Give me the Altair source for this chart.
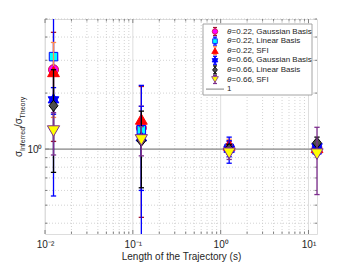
import altair as alt
import pandas as pd

# ---------------- data ----------------
X_LEN = [0.0125, 0.125, 1.25, 12.5]

G022_Y = [2.67, 1.30, 1.02, 1.01]
G022_E = [1.57, 0.87, 0.08, 0.06]
L022_Y = [3.14, 1.27, 1.01, 0.99]
L022_E = [2.58, 0.93, 0.10, 0.06]
S022_Y = [2.61, 1.45, 1.05, 1.02]
S022_E = [1.13, 0.25, 0.08, 0.06]
G066_Y = [1.84, 1.15, 1.00, 1.03]
G066_E = [0.30, 0.55, 0.16, 0.08]
L066_Y = [1.71, 1.11, 1.00, 1.08]
L066_E = [0.96, 0.49, 0.06, 0.08]
S066_Y = [1.25, 1.12, 0.95, 0.94]
S066_E = [0.32, 0.20, 0.07, 0.37]

SERIES_THETA = ["0.22", "0.22", "0.22", "0.66", "0.66", "0.66"]
SERIES_METHOD = ["Gaussian Basis", "Linear Basis", "SFI",
                 "Gaussian Basis", "Linear Basis", "SFI"]
SERIES_Y = [G022_Y, L022_Y, S022_Y, G066_Y, L066_Y, S066_Y]
SERIES_E = [G022_E, L022_E, S022_E, G066_E, L066_E, S066_E]

REF_NAME = "1"
REF_X = [0.01, 12.5]
REF_Y = [1.0, 1.0]

X_TICKS = [0.01, 0.1, 1, 10]
X_TICK_LABELS = ["10⁻²", "10⁻¹", "10⁰", "10¹"]
X_MINOR = [0.02, 0.03, 0.04, 0.05, 0.06, 0.07, 0.08, 0.09,
           0.2, 0.3, 0.4, 0.5, 0.6, 0.7, 0.8, 0.9,
           2, 3, 4, 5, 6, 7, 8, 9]
Y_TICKS = [1]
Y_TICK_LABELS = ["10⁰"]
Y_MINOR = [0.4, 0.5, 0.6, 0.7, 0.8, 0.9, 2, 3, 4, 5]
X_DOMAIN = [0.01, 12.5]
Y_DOMAIN = [0.35, 5]

X_TITLE = "Length of the Trajectory (s)"
Y_TITLE_PARTS = ["σ", "Inferred", "/σ", "Theory"]

# ---------------- styles ----------------
W, H = 272, 215
FONT = "Liberation Sans"
TXT = "#262626"
AXC = "#6a6a6a"
HEX = "M0,-1L0.866,0.5L-0.866,0.5Z M0,1L-0.866,-0.5L0.866,-0.5Z"
DIAM = "M-0.8,0L0,-1L0.8,0L0,1Z"
STYLES = [
    dict(bar="#a2142f", face="#ff00ff", edge="#d0103a", shape="circle", size=100),
    dict(bar="#0000ff", face="#00ffff", edge="#0000ff", shape="square", size=72),
    dict(bar="#ff8a50", face="#ff0000", edge="#ff0000", shape="triangle-up", size=140),
    dict(bar="#0000ff", face="#0000ff", edge="#0000ff", shape=HEX, size=150),
    dict(bar="#000000", face="#4d4d4d", edge="#000000", shape=DIAM, size=125),
    dict(bar="#7e2f8e", face="#ffff00", edge="#7e2f8e", shape="triangle-down", size=150),
]


def label_expr(ticks, labels):
    expr = "'" + labels[-1] + "'"
    for t, lab in reversed(list(zip(ticks[:-1], labels[:-1]))):
        expr = f"datum.value < {t * 3.16} ? '{lab}' : ({expr})"
    return expr


xs = alt.Scale(type="log", domain=X_DOMAIN, nice=False)
ys = alt.Scale(type="log", domain=Y_DOMAIN, nice=False, clamp=True)
X_AXIS = alt.Axis(
    values=X_TICKS, labelExpr=label_expr(X_TICKS, X_TICK_LABELS),
    grid=False, ticks=False, domain=False, labelFont=FONT, labelFontSize=10,
    labelColor=TXT, labelPadding=5, labelFlush=False, labelOverlap=False,
    title=X_TITLE, titleFont=FONT, titleFontSize=10, titleFontWeight="normal",
    titleColor=TXT, titlePadding=2)
Y_AXIS = alt.Axis(
    values=Y_TICKS, labelExpr=label_expr(Y_TICKS, Y_TICK_LABELS),
    grid=False, ticks=False, domain=False, labelFont=FONT, labelFontSize=10,
    labelColor=TXT, labelPadding=3, title=None)


def X(f):
    return alt.X(f, scale=xs, axis=X_AXIS)


def Y(f):
    return alt.Y(f, scale=ys, axis=Y_AXIS)


DUMMY = pd.DataFrame({"k": [0]})
layers = []

# grid lines
layers.append(alt.Chart(pd.DataFrame({"v": X_TICKS})).mark_rule(
    color="#dedede", strokeWidth=1).encode(x=X("v:Q")))
layers.append(alt.Chart(pd.DataFrame({"v": X_MINOR})).mark_rule(
    color="#c8c8c8", strokeWidth=0.8, strokeDash=[1, 2]).encode(x=X("v:Q")))
layers.append(alt.Chart(pd.DataFrame({"v": Y_MINOR})).mark_rule(
    color="#c8c8c8", strokeWidth=0.8, strokeDash=[1, 2]).encode(y=Y("v:Q")))
layers.append(alt.Chart(pd.DataFrame({"v": Y_TICKS})).mark_rule(
    color="#dedede", strokeWidth=1).encode(y=Y("v:Q")))

# inward tick marks
for vals, ln in ((X_TICKS, 4), (X_MINOR, 2.5)):
    d = pd.DataFrame({"v": vals})
    layers.append(alt.Chart(d).mark_rule(color=AXC, strokeWidth=0.8).encode(
        x=X("v:Q"), y=alt.value(H), y2=alt.value(H - ln)))
    layers.append(alt.Chart(d).mark_rule(color=AXC, strokeWidth=0.8).encode(
        x=X("v:Q"), y=alt.value(0), y2=alt.value(ln)))
for vals, ln in ((Y_TICKS, 4), (Y_MINOR, 2.5)):
    d = pd.DataFrame({"v": vals})
    layers.append(alt.Chart(d).mark_rule(color=AXC, strokeWidth=0.8).encode(
        y=Y("v:Q"), x=alt.value(0), x2=alt.value(ln)))
    layers.append(alt.Chart(d).mark_rule(color=AXC, strokeWidth=0.8).encode(
        y=Y("v:Q"), x=alt.value(W), x2=alt.value(W - ln)))

# reference line at 1
layers.append(alt.Chart(pd.DataFrame({"x": REF_X, "y": REF_Y})).mark_line(
    color="#8c8c8c", strokeWidth=1.1).encode(x=X("x:Q"), y=Y("y:Q")))

# series with error bars
for yv, ev, st in zip(SERIES_Y, SERIES_E, STYLES):
    lo = [max(a - b, 1e-3) for a, b in zip(yv, ev)]
    hi = [a + b for a, b in zip(yv, ev)]
    df = pd.DataFrame({"x": X_LEN, "y": yv, "lo": lo, "hi": hi})
    caps = pd.DataFrame({"x": X_LEN + X_LEN, "c": lo + hi})
    caps = caps[(caps["c"] >= Y_DOMAIN[0]) & (caps["c"] <= Y_DOMAIN[1])]
    layers.append(alt.Chart(df).mark_rule(color=st["bar"], strokeWidth=1.3).encode(
        x=X("x:Q"), y=Y("lo:Q"), y2="hi:Q"))
    layers.append(alt.Chart(caps).mark_point(shape="stroke", size=28, color=st["bar"],
                                             strokeWidth=1.3, opacity=1).encode(
        x=X("x:Q"), y=Y("c:Q")))
    layers.append(alt.Chart(df).mark_point(shape=st["shape"], size=st["size"], filled=True,
                                           fill=st["face"], stroke=st["edge"], strokeWidth=1,
                                           opacity=1, fillOpacity=1).encode(
        x=X("x:Q"), y=Y("y:Q")))

# legend
LX0, LX1, LY0, LY1 = 158, 267, 5, 76
SYM_X, TXT_X, ROW0, ROWH = 170, 182, 12.5, 9.6
layers.append(alt.Chart(DUMMY).mark_rect(fill="white", stroke="#9a9a9a", strokeWidth=0.9).encode(
    x=alt.value(LX0), x2=alt.value(LX1), y=alt.value(LY0), y2=alt.value(LY1)))
for i, (th, meth, st) in enumerate(zip(SERIES_THETA, SERIES_METHOD, STYLES)):
    cy = ROW0 + ROWH * i
    layers.append(alt.Chart(DUMMY).mark_rule(color=st["bar"], strokeWidth=1.2).encode(
        x=alt.value(SYM_X), y=alt.value(cy - 4), y2=alt.value(cy + 4)))
    for dy in (-4, 4):
        layers.append(alt.Chart(DUMMY).mark_rule(color=st["bar"], strokeWidth=1.2).encode(
            x=alt.value(SYM_X - 2), x2=alt.value(SYM_X + 2), y=alt.value(cy + dy)))
    layers.append(alt.Chart(DUMMY).mark_point(shape=st["shape"], size=st["size"] * 0.3, filled=True,
                                              fill=st["face"], stroke=st["edge"], strokeWidth=0.8,
                                              opacity=1).encode(
        x=alt.value(SYM_X), y=alt.value(cy)))
    layers.append(alt.Chart(DUMMY).mark_text(text="θ", font=FONT, fontSize=8, fontStyle="italic",
                                             align="left", baseline="middle", color=TXT).encode(
        x=alt.value(TXT_X), y=alt.value(cy)))
    layers.append(alt.Chart(DUMMY).mark_text(text=f"={th}, {meth}", font=FONT, fontSize=8,
                                             align="left", baseline="middle", color=TXT).encode(
        x=alt.value(TXT_X + 4.6), y=alt.value(cy)))
cy = ROW0 + ROWH * 6
layers.append(alt.Chart(DUMMY).mark_rule(color="#8c8c8c", strokeWidth=1.1).encode(
    x=alt.value(161), x2=alt.value(179), y=alt.value(cy)))
layers.append(alt.Chart(DUMMY).mark_text(text=REF_NAME, font=FONT, fontSize=8, align="left",
                                         baseline="middle", color=TXT).encode(
    x=alt.value(TXT_X), y=alt.value(cy)))

# y-axis title with subscripts
for txt, fs, px, py in zip(Y_TITLE_PARTS, [10, 7, 10, 7], [-23, -20.5, -23, -20.5],
                           [138, 132, 108, 99.5]):
    layers.append(alt.Chart(DUMMY).mark_text(text=txt, font=FONT, fontSize=fs, angle=270,
                                             align="left", baseline="alphabetic", color=TXT).encode(
        x=alt.value(px), y=alt.value(py)))

chart = alt.layer(*layers).properties(
    width=W, height=H,
    autosize=alt.AutoSizeParams(type="none"),
    padding={"left": 37, "top": 11, "right": 20, "bottom": 29},
).configure_view(stroke=AXC, strokeWidth=1).configure(background="white")

chart.save("out.html", embed_options={"renderer": "svg", "actions": False})
